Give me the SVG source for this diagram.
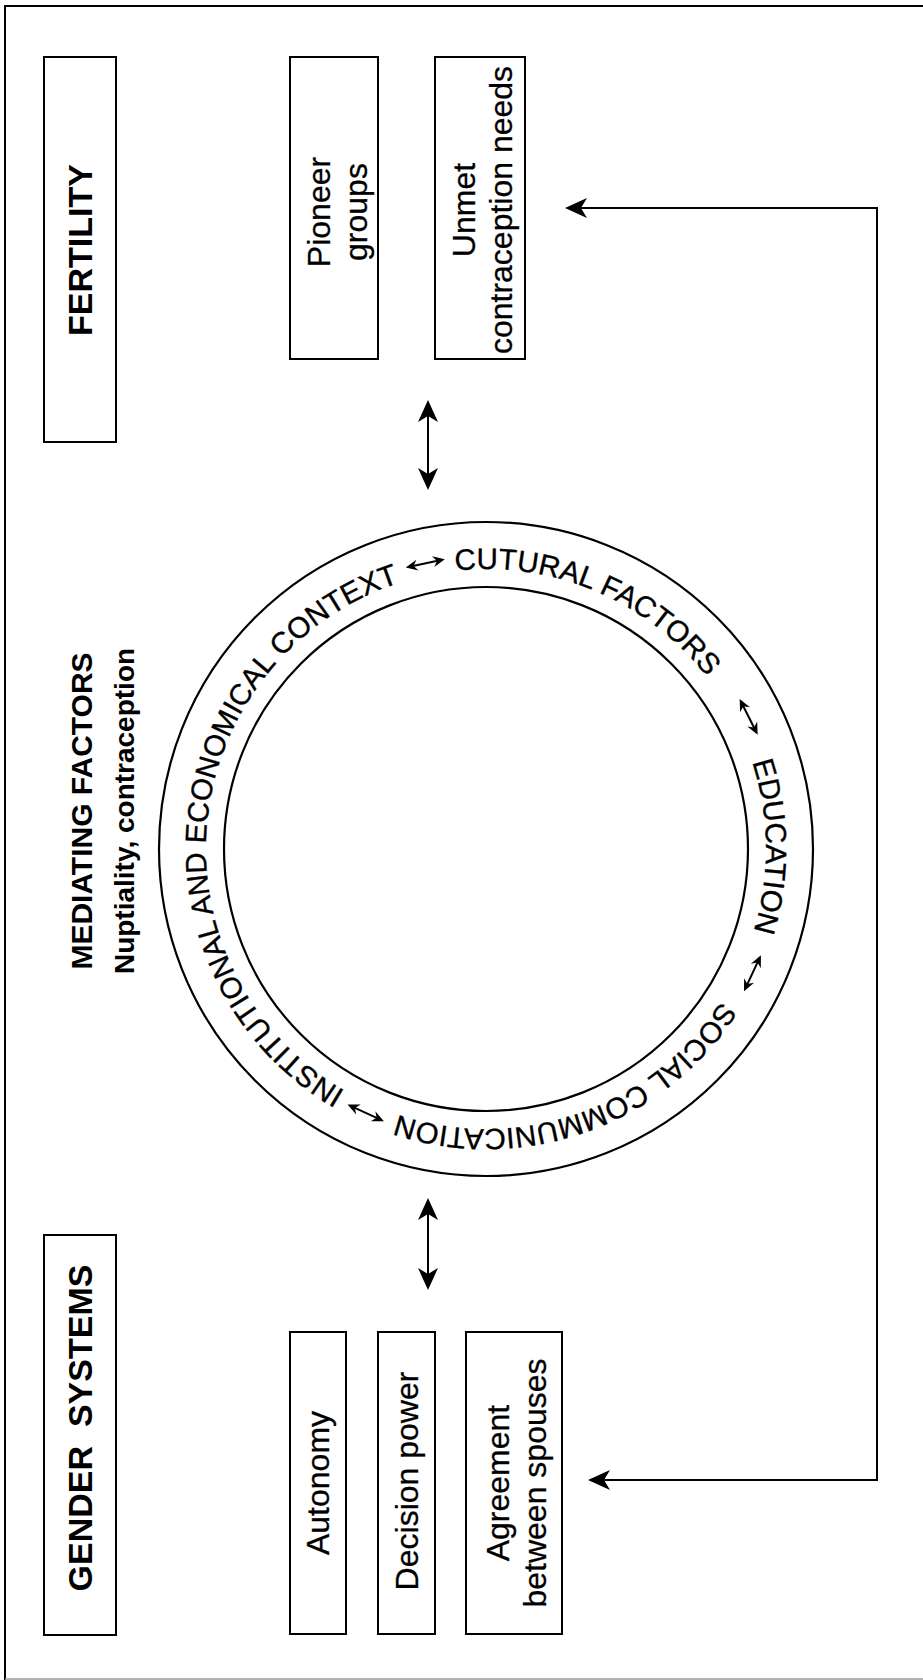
<svg xmlns="http://www.w3.org/2000/svg" width="923" height="1680" viewBox="0 0 923 1680">
<style>
.box{fill:#fff;stroke:#000;stroke-width:2}
.t{font-family:"Liberation Sans",Arial,sans-serif;fill:#000}
.bt{font-size:32px;text-anchor:middle;stroke:#000;stroke-width:0.3}
.hd{font-size:34px;font-weight:bold;text-anchor:middle}
.ring{fill:none;stroke:#000;stroke-width:2.2}
.con{fill:none;stroke:#000;stroke-width:2}
.sm{fill:none;stroke:#000;stroke-width:2}
.rt{font-size:29.5px;stroke:#000;stroke-width:0.35}
</style>
<defs>
<marker id="big" viewBox="-24 -12 26 24" refX="-8" refY="0" markerWidth="26" markerHeight="24" markerUnits="userSpaceOnUse" orient="auto-start-reverse">
<path d="M0,0 L-22,-10 L-16,0 L-22,10 Z" fill="#000"/>
</marker>
<marker id="small" viewBox="-14 -7 16 14" refX="-5" refY="0" markerWidth="16" markerHeight="14" markerUnits="userSpaceOnUse" orient="auto-start-reverse">
<path d="M0,0 L-12,-5.5 L-8,0 L-12,5.5 Z" fill="#000"/>
</marker>
<path id="ringpath" d="M 346 1091.49 A 280 280 0 1 1 626 606.51 A 280 280 0 1 1 346 1091.49"/>
</defs>
<rect width="923" height="1680" fill="#fff"/>
<g id="frame">
<line x1="5" y1="6" x2="5" y2="1680" stroke="#000" stroke-width="2"/>
<line x1="4" y1="6" x2="923" y2="6" stroke="#000" stroke-width="2"/>
<line x1="5" y1="1679" x2="923" y2="1679" stroke="#999" stroke-width="1.5"/>
</g>
<g id="fertility">
<rect class="box" x="44" y="57" width="72" height="385"/>
<text class="t hd" transform="translate(0,250) rotate(-90)" x="0" y="92">FERTILITY</text>
</g>
<g id="pioneer">
<rect class="box" x="290" y="57" width="88" height="302"/>
<text class="t bt" transform="translate(0,212) rotate(-90)"><tspan x="0" y="330">Pioneer</tspan><tspan x="0" y="367">groups</tspan></text>
</g>
<g id="unmet">
<rect class="box" x="435" y="57" width="90" height="302"/>
<text class="t bt" transform="translate(0,210) rotate(-90)"><tspan x="0" y="475">Unmet</tspan><tspan x="0" y="512">contraception needs</tspan></text>
</g>
<g id="gender">
<rect class="box" x="44" y="1235" width="72" height="400"/>
<text class="t hd" transform="translate(0,1428) rotate(-90)" x="0" y="92" xml:space="preserve">GENDER  SYSTEMS</text>
</g>
<g id="autonomy">
<rect class="box" x="290" y="1332" width="56" height="302"/>
<text class="t bt" transform="translate(0,1483) rotate(-90)" x="0" y="329">Autonomy</text>
</g>
<g id="decision">
<rect class="box" x="378" y="1332" width="57" height="302"/>
<text class="t bt" transform="translate(0,1481) rotate(-90)" x="0" y="418">Decision power</text>
</g>
<g id="agreement">
<rect class="box" x="466" y="1332" width="96" height="302"/>
<text class="t bt" transform="translate(0,1483) rotate(-90)"><tspan x="0" y="509">Agreement</tspan><tspan x="0" y="546">between spouses</tspan></text>
</g>
<g id="mediating">
<text class="t" transform="translate(0,811) rotate(-90)" style="font-weight:bold;text-anchor:middle"><tspan x="0" y="92" font-size="30">MEDIATING FACTORS</tspan><tspan x="0" y="134" font-size="28">Nuptiality, contraception</tspan></text>
<circle class="ring" cx="486" cy="849" r="327"/>
<circle class="ring" cx="486" cy="849" r="262"/>
<text class="t rt"><textPath href="#ringpath" startOffset="1">INSTITUTIONAL AND ECONOMICAL CONTEXT</textPath></text>
<text class="t rt"><textPath href="#ringpath" startOffset="702">CUTURAL FACTORS</textPath></text>
<text class="t rt"><textPath href="#ringpath" startOffset="1084">EDUCATION</textPath></text>
<text class="t rt"><textPath href="#ringpath" startOffset="1333">SOCIAL COMMUNICATION</textPath></text>
<path class="sm" d="M410.62,566.50 L439.96,560.26" marker-start="url(#small)" marker-end="url(#small)"/>
<path class="sm" d="M741.91,703.50 L755.39,730.30" marker-start="url(#small)" marker-end="url(#small)"/>
<path class="sm" d="M758.80,959.66 L746.12,986.84" marker-start="url(#small)" marker-end="url(#small)"/>
<path class="sm" d="M379.39,1119.11 L352.09,1106.67" marker-start="url(#small)" marker-end="url(#small)"/>
</g>
<g id="connectors">
<path class="con" d="M428,408 L428,482" marker-start="url(#big)" marker-end="url(#big)"/>
<path class="con" d="M428,1206 L428,1282" marker-start="url(#big)" marker-end="url(#big)"/>
<path class="con" d="M573,208 L877,208 L877,1480 L596,1480" marker-start="url(#big)" marker-end="url(#big)"/>
</g>
</svg>
